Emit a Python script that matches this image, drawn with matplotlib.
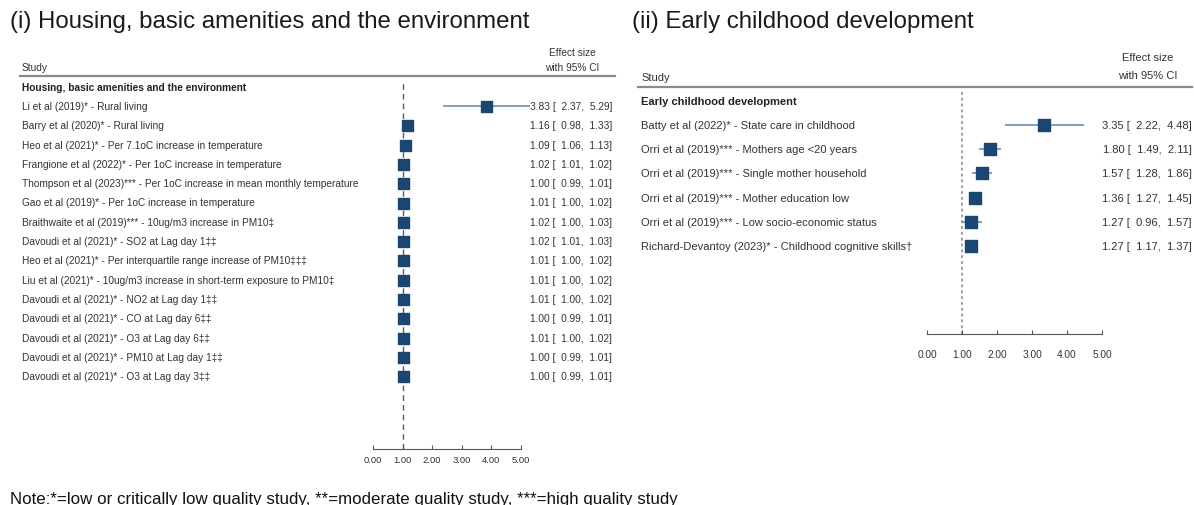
import matplotlib
matplotlib.use("Agg")
import matplotlib.pyplot as plt
from matplotlib.transforms import blended_transform_factory

# ---------------- data ----------------
left_title = "(i) Housing, basic amenities and the environment"
left_section = "Housing, basic amenities and the environment"
left_studies = [
    "Li et al (2019)* - Rural living",
    "Barry et al (2020)* - Rural living",
    "Heo et al (2021)* - Per 7.1oC increase in temperature",
    "Frangione et al (2022)* - Per 1oC increase in temperature",
    "Thompson et al (2023)*** - Per 1oC increase in mean monthly temperature",
    "Gao et al (2019)* - Per 1oC increase in temperature",
    "Braithwaite et al (2019)*** - 10ug/m3 increase in PM10\u2021",
    "Davoudi et al (2021)* - SO2 at Lag day 1\u2021\u2021",
    "Heo et al (2021)* - Per interquartile range increase of PM10\u2021\u2021\u2021",
    "Liu et al (2021)* - 10ug/m3 increase in short-term exposure to PM10\u2021",
    "Davoudi et al (2021)* - NO2 at Lag day 1\u2021\u2021",
    "Davoudi et al (2021)* - CO at Lag day 6\u2021\u2021",
    "Davoudi et al (2021)* - O3 at Lag day 6\u2021\u2021",
    "Davoudi et al (2021)* - PM10 at Lag day 1\u2021\u2021",
    "Davoudi et al (2021)* - O3 at Lag day 3\u2021\u2021",
]
left_es = [3.83, 1.16, 1.09, 1.02, 1.00, 1.01, 1.02, 1.02, 1.01, 1.01, 1.01, 1.00, 1.01, 1.00, 1.00]
left_lo = [2.37, 0.98, 1.06, 1.01, 0.99, 1.00, 1.00, 1.01, 1.00, 1.00, 1.00, 0.99, 1.00, 0.99, 0.99]
left_hi = [5.29, 1.33, 1.13, 1.02, 1.01, 1.02, 1.03, 1.03, 1.02, 1.02, 1.02, 1.01, 1.02, 1.01, 1.01]

right_title = "(ii) Early childhood development"
right_section = "Early childhood development"
right_studies = [
    "Batty et al (2022)* - State care in childhood",
    "Orri et al (2019)*** - Mothers age <20 years",
    "Orri et al (2019)*** - Single mother household",
    "Orri et al (2019)*** - Mother education low",
    "Orri et al (2019)*** - Low socio-economic status",
    "Richard-Devantoy (2023)* - Childhood cognitive skills\u2020",
]
right_es = [3.35, 1.80, 1.57, 1.36, 1.27, 1.27]
right_lo = [2.22, 1.49, 1.28, 1.27, 0.96, 1.17]
right_hi = [4.48, 2.11, 1.86, 1.45, 1.57, 1.37]

x_ticks = [0, 1, 2, 3, 4, 5]
x_ticklabels = ["0.00", "1.00", "2.00", "3.00", "4.00", "5.00"]

note = "Note:*=low or critically low quality study, **=moderate quality study, ***=high quality study"

# ---------------- layout ----------------
W, H = 1194, 506
plt.rcParams['font.family'] = ['Liberation Sans', 'DejaVu Sans']
fig = plt.figure(figsize=(W / 100, H / 100), dpi=100)
fig.patch.set_facecolor("white")

def fx(x):
    return x / W

def fy(y):
    return 1 - y / H

SQ = "#1b4670"
CI = "#6a8fae"
TXT = "#333333"


def panel(ax_px, row0, drow, dash_top, labels, es, lo, hi, section, title,
          title_xy, study_xy, section_xy, label_x, num_x, head_x, head_y,
          line_x, line_y, fs, tick_fs, tick_y, dash_style, dash_color, dash_lw, sq_px):
    x0, x1, ybot = ax_px
    ax = fig.add_axes([fx(x0), fy(ybot), (x1 - x0) / W, (ybot - dash_top) / H])
    ax.set_xlim(0, 5)
    ax.set_ylim((ybot - row0) / drow, (dash_top - row0) / drow)
    for s in ["top", "left", "right"]:
        ax.spines[s].set_visible(False)
    ax.spines["bottom"].set_color("#555555")
    ax.spines["bottom"].set_linewidth(0.8)
    ax.set_yticks([])
    ax.set_xticks(x_ticks)
    ax.set_xticklabels(x_ticklabels)
    ax.tick_params(axis="x", direction="in", length=3, width=0.8, color="#555555",
                   labelsize=tick_fs, labelcolor=TXT, pad=(tick_y - ybot) - 6)
    ax.patch.set_alpha(0)
    ax.axvline(1, color=dash_color, lw=dash_lw, ls=dash_style, zorder=1)
    rows = list(range(len(labels)))
    ax.hlines(rows, lo, hi, color=CI, lw=1.2, zorder=2, clip_on=False)
    ax.scatter(es, rows, marker="s", s=(sq_px * 0.72) ** 2, color=SQ,
               edgecolors=SQ, zorder=3, clip_on=False)
    tr = blended_transform_factory(fig.transFigure, ax.transData)
    for i, (lab, e, l, h) in enumerate(zip(labels, es, lo, hi)):
        ax.text(fx(label_x), i, lab, transform=tr, ha="left", va="center",
                fontsize=fs, color=TXT)
        ax.text(fx(num_x), i, f"{e:.2f} [  {l:.2f},  {h:.2f}]", transform=tr,
                ha="right", va="center", fontsize=fs, color=TXT)
    fig.text(fx(title_xy[0]), fy(title_xy[1]), title, ha="left", va="center",
             fontsize=17.3, color="#1a1a1a")
    fig.text(fx(study_xy[0]), fy(study_xy[1]), "Study", ha="left", va="center",
             fontsize=fs, color=TXT)
    fig.text(fx(section_xy[0]), fy(section_xy[1]), section, ha="left", va="center",
             fontsize=fs, color="#222222", fontweight="bold")
    fig.text(fx(head_x), fy(head_y[0]), "Effect size", ha="center", va="center",
             fontsize=fs, color=TXT)
    fig.text(fx(head_x), fy(head_y[1]), "with 95% CI", ha="center", va="center",
             fontsize=fs, color=TXT)
    fig.add_artist(plt.Line2D([fx(line_x[0]), fx(line_x[1])], [fy(line_y), fy(line_y)],
                              transform=fig.transFigure, color="#8a8a8a", lw=1.6))
    return ax


panel((373, 521, 450), 107, 19.3, 82, left_studies, left_es, left_lo, left_hi,
      left_section, left_title, (10, 22), (22, 68), (22, 88), 22, 612, 572,
      (53, 68), (20, 615), 77, 7.3, 6.8, 460, (0, (4, 3)), "#4a5f78", 1.0, 11)

panel((927, 1102, 335), 126, 24.2, 90, right_studies, right_es, right_lo, right_hi,
      right_section, right_title, (632, 22), (641, 78), (641, 102), 641, 1192, 1148,
      (58, 76), (638, 1192), 88, 8.0, 7.3, 352, (0, (1.5, 1.5)), "#a0a0a0", 1.4, 12)

fig.text(fx(10), fy(492), note, ha="left", va="top", fontsize=12.2, color="#111111")

fig.savefig("out.png", dpi=100, facecolor="white")
